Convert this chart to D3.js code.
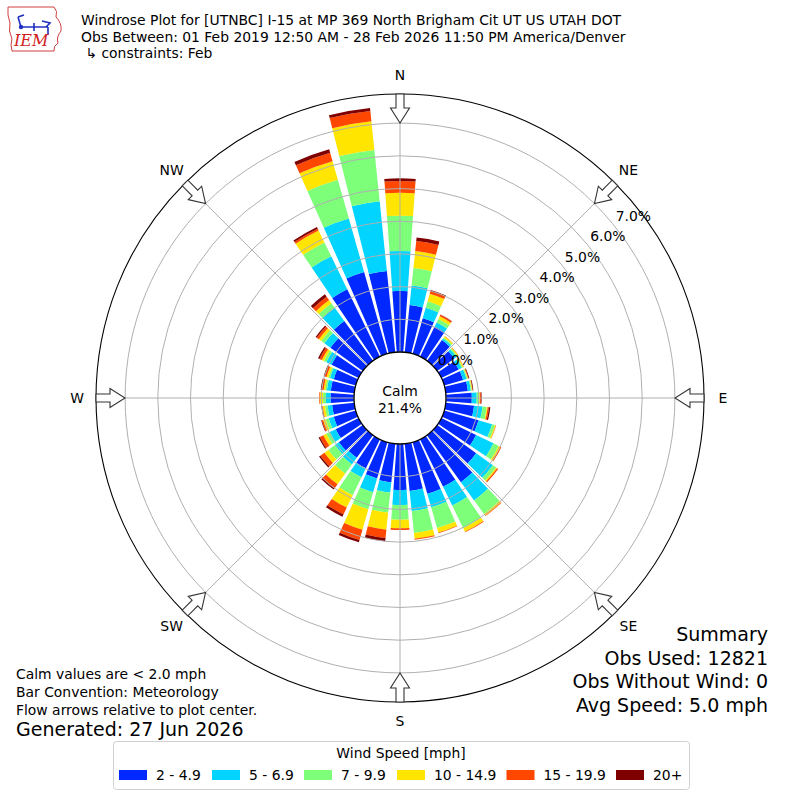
<!DOCTYPE html>
<html lang="en">
<head>
    <meta charset="UTF-8">
    <title>Windrose UTNBC</title>
    <style>
        body { margin: 0; background: #fff; }
        text { font-family: "DejaVu Sans", sans-serif; fill: #000; }
    </style>
    <script src="https://cdn.jsdelivr.net/npm/d3@7"></script>
</head>
<body>
<svg class="chart" width="800" height="800"></svg>
<script>
    // wind direction bins (deg, meteorological) and percent of obs per speed bin
    const directions = [0, 10, 20, 30, 40, 50, 60, 70, 80, 90, 100, 110, 120, 130, 140, 150, 160, 170,
        180, 190, 200, 210, 220, 230, 240, 250, 260, 270, 280, 290, 300, 310, 320, 330, 340, 350];
    const speed2to5 = [1.87, 1.45, 1.13, 1.02, 0.78, 0.65, 0.59, 0.60, 0.68, 0.79, 0.87, 1.09, 1.18, 1.47, 1.77, 1.61, 1.64, 1.45,
        1.41, 1.19, 1.15, 0.98, 0.85, 0.90, 0.78, 0.70, 0.68, 0.72, 0.72, 0.70, 0.92, 1.22, 1.50, 2.29, 2.60, 2.50];
    const speed5to7 = [1.22, 0.60, 0.33, 0.14, 0.06, 0.08, 0.10, 0.11, 0.09, 0.15, 0.26, 0.43, 0.59, 0.63, 0.69, 0.64, 0.43, 0.62,
        0.46, 0.31, 0.44, 0.31, 0.25, 0.15, 0.20, 0.16, 0.14, 0.14, 0.12, 0.12, 0.18, 0.23, 0.50, 1.12, 1.70, 2.14];
    const speed7to10 = [1.08, 0.54, 0.21, 0.12, 0.04, 0.04, 0.04, 0.03, 0.03, 0.08, 0.13, 0.09, 0.18, 0.12, 0.51, 0.77, 0.66, 0.67,
        0.45, 0.62, 0.54, 0.61, 0.35, 0.25, 0.12, 0.10, 0.08, 0.09, 0.05, 0.05, 0.08, 0.12, 0.17, 0.47, 1.23, 1.58];
    const speed10to15 = [0.70, 0.52, 0.24, 0.09, 0.04, 0.03, 0.03, 0.02, 0.02, 0.02, 0.03, 0.03, 0.06, 0.04, 0.06, 0.12, 0.14, 0.18,
        0.26, 0.52, 0.65, 0.42, 0.40, 0.15, 0.10, 0.08, 0.07, 0.10, 0.05, 0.06, 0.07, 0.09, 0.12, 0.41, 0.59, 0.88];
    const speed15to20 = [0.36, 0.31, 0.09, 0.05, 0.01, 0.01, 0.01, 0.02, 0.01, 0.03, 0.04, 0.01, 0.03, 0.04, 0.02, 0.02, 0.02, 0.03,
        0.05, 0.26, 0.33, 0.23, 0.15, 0.15, 0.12, 0.04, 0.03, 0.02, 0.06, 0.06, 0.08, 0.08, 0.13, 0.06, 0.27, 0.32];
    const speed20up = [0.08, 0.11, 0.03, 0.01, 0, 0, 0, 0.02, 0.02, 0.02, 0.04, 0, 0, 0, 0, 0, 0, 0,
        0, 0.10, 0.07, 0.08, 0.05, 0.05, 0.04, 0.02, 0.01, 0, 0.03, 0.03, 0.05, 0.04, 0.09, 0.06, 0.11, 0.09];

    const speedLabels = ['2 - 4.9', '5 - 6.9', '7 - 9.9', '10 - 14.9', '15 - 19.9', '20+'];
    const speedColors = ['#0028ff', '#00d4ff', '#7dff7a', '#ffe500', '#ff4700', '#7f0000'];
    const radialTicks = [0, 1, 2, 3, 4, 5, 6, 7];
    const compass = ['N', 'NE', 'E', 'SE', 'S', 'SW', 'W', 'NW'];
    const calmPct = 21.4;

    const titleLines = [
        'Windrose Plot for [UTNBC] I-15 at MP 369 North Brigham Cit UT US UTAH DOT',
        'Obs Between: 01 Feb 2019 12:50 AM - 28 Feb 2026 11:50 PM America/Denver',
        ' \u21b3 constraints: Feb'
    ];
    const notes = ['Calm values are < 2.0 mph', 'Bar Convention: Meteorology', 'Flow arrows relative to plot center.'];
    const summary = ['Summary', 'Obs Used: 12821', 'Obs Without Wind: 0', 'Avg Speed: 5.0 mph'];

    const cx = 400, cy = 398,
        rMax = 7.89,
        barWidth = 8.2;

    const svg = d3.select('.chart');
    const rad = d3.scaleLinear().domain([0, rMax]).range([46, 304]);
    const toRad = d => d * Math.PI / 180;

    // table for d3.stack
    const keys = ['s1', 's2', 's3', 's4', 's5', 's6'];
    const series = [speed2to5, speed5to7, speed7to10, speed10to15, speed15to20, speed20up];
    const rows = directions.map((d, i) => {
        const row = {dir: d};
        keys.forEach((k, j) => row[k] = series[j][i]);
        return row;
    });
    const stacked = d3.stack().keys(keys)(rows);

    const g = svg.append('g').attr('transform', 'translate(' + cx + ',' + cy + ')');

    /**
     * bars
     */
    const arc = d3.arc()
        .innerRadius(d => rad(d[0]))
        .outerRadius(d => rad(d[1]))
        .startAngle(d => toRad(d.data.dir - barWidth / 2))
        .endAngle(d => toRad(d.data.dir + barWidth / 2));

    g.selectAll('g.layer')
        .data(stacked).enter().append('g')
        .attr('class', 'layer')
        .attr('fill', (d, i) => speedColors[i])
        .selectAll('path')
        .data(d => d.filter(p => p[1] > p[0]))
        .enter().append('path')
        .attr('d', arc);

    /**
     * grid
     */
    g.selectAll('circle.ring')
        .data(radialTicks).enter().append('circle')
        .attr('class', 'ring')
        .attr('r', d => rad(d))
        .attr('fill', 'none')
        .attr('stroke', '#b0b0b0')
        .attr('stroke-width', 1);

    g.selectAll('line.spoke')
        .data(d3.range(0, 360, 45)).enter().append('line')
        .attr('class', 'spoke')
        .attr('x1', d => rad(0) * Math.sin(toRad(d)))
        .attr('y1', d => -rad(0) * Math.cos(toRad(d)))
        .attr('x2', d => rad(rMax) * Math.sin(toRad(d)))
        .attr('y2', d => -rad(rMax) * Math.cos(toRad(d)))
        .attr('stroke', '#b0b0b0')
        .attr('stroke-width', 1);

    g.append('circle')
        .attr('r', rad(rMax))
        .attr('fill', 'none')
        .attr('stroke', '#000')
        .attr('stroke-width', 1.1);

    // calm hole
    g.append('circle')
        .attr('r', rad(0))
        .attr('fill', '#fff')
        .attr('stroke', '#000')
        .attr('stroke-width', 1.3);

    g.append('text').attr('text-anchor', 'middle').attr('y', -2)
        .style('font-size', '13.9px').text('Calm');
    g.append('text').attr('text-anchor', 'middle').attr('y', 15)
        .style('font-size', '13.9px').text(calmPct.toFixed(1) + '%');

    /**
     * flow arrows
     */
    const rOut = rad(rMax), rHead = rOut - 14, rTip = rOut - 29;
    const arrowPath = 'M-4,' + (-rOut) + 'L4,' + (-rOut) + 'L4,' + (-rHead) + 'L9.5,' + (-rHead) +
        'L0,' + (-rTip) + 'L-9.5,' + (-rHead) + 'L-4,' + (-rHead) + 'Z';
    g.selectAll('path.arrow')
        .data(d3.range(0, 360, 45)).enter().append('path')
        .attr('class', 'arrow')
        .attr('d', arrowPath)
        .attr('transform', d => 'rotate(' + d + ')')
        .attr('fill', '#fff')
        .attr('stroke', '#333')
        .attr('stroke-width', 1.1)
        .attr('stroke-linejoin', 'miter');

    // radial tick labels along the 51 deg ray
    g.selectAll('text.rlabel')
        .data(radialTicks).enter().append('text')
        .attr('class', 'rlabel')
        .attr('x', d => rad(d) * Math.sin(toRad(51)) + 2)
        .attr('y', d => -rad(d) * Math.cos(toRad(51)) - 4.5)
        .style('font-size', '13.9px')
        .text(d => d.toFixed(1) + '%');

    // compass labels
    g.selectAll('text.compass')
        .data(compass).enter().append('text')
        .attr('class', 'compass')
        .attr('x', (d, i) => 323 * Math.sin(toRad(i * 45)))
        .attr('y', (d, i) => -323 * Math.cos(toRad(i * 45)))
        .attr('text-anchor', 'middle')
        .attr('dominant-baseline', 'central')
        .style('font-size', '13.9px')
        .text(d => d);

    /**
     * titles and notes
     */
    svg.selectAll('text.title')
        .data(titleLines).enter().append('text')
        .attr('class', 'title')
        .attr('x', 81)
        .attr('y', (d, i) => 25 + i * 16.5)
        .style('font-size', '13.9px')
        .style('white-space', 'pre')
        .text(d => d);

    svg.selectAll('text.note')
        .data(notes).enter().append('text')
        .attr('class', 'note')
        .attr('x', 16)
        .attr('y', (d, i) => 679 + i * 18)
        .style('font-size', '13.9px')
        .text(d => d);
    svg.append('text').attr('x', 16).attr('y', 736)
        .style('font-size', '19px').text('Generated: 27 Jun 2026');

    svg.selectAll('text.summary')
        .data(summary).enter().append('text')
        .attr('class', 'summary')
        .attr('x', 768)
        .attr('y', (d, i) => 641 + i * 23.7)
        .attr('text-anchor', 'end')
        .style('font-size', '19px')
        .text(d => d);

    /**
     * legend
     */
    const legend = svg.append('g');
    legend.append('rect')
        .attr('x', 113.5).attr('y', 741.5)
        .attr('width', 576).attr('height', 48)
        .attr('rx', 3)
        .attr('fill', '#fff')
        .attr('stroke', '#d0d0d0');
    legend.append('text')
        .attr('x', 401).attr('y', 757.5)
        .attr('text-anchor', 'middle')
        .style('font-size', '13.9px')
        .text('Wind Speed [mph]');
    const legendX = [119, 212, 304, 397, 506.5, 616];
    const item = legend.selectAll('g.item')
        .data(speedLabels).enter().append('g')
        .attr('class', 'item')
        .attr('transform', (d, i) => 'translate(' + legendX[i] + ',770)');
    item.append('rect')
        .attr('width', 28).attr('height', 10)
        .attr('fill', (d, i) => speedColors[i]);
    item.append('text')
        .attr('x', 37).attr('y', 10)
        .style('font-size', '13.9px')
        .text(d => d);

    /**
     * IEM logo
     */
    const logo = svg.append('g').attr('transform', 'translate(6,5)');
    logo.append('path')
        .attr('d', 'M2,2 L48,2 Q52,6 50,12 Q56,18 55,26 Q50,32 52,38 Q47,41 48,46 L6,46 Q4,40 6,34 Q2,26 4,18 Q1,10 2,2 Z')
        .attr('fill', 'none')
        .attr('stroke', '#d04040')
        .attr('stroke-width', 1);
    logo.append('path')
        .attr('d', 'M15,22 L42,22 M28,18 L28,26 M36,16 L44,18 L40,22 M42,22 L42,30 M15,22 L12,12 M12,12 L18,10')
        .attr('fill', 'none')
        .attr('stroke', '#2030c0')
        .attr('stroke-width', 1.6);
    logo.append('circle').attr('cx', 15).attr('cy', 22).attr('r', 2.2).attr('fill', '#2030c0');
    logo.append('text')
        .attr('x', 8).attr('y', 41)
        .style('font-family', '"DejaVu Serif", serif')
        .style('font-style', 'italic')
        .style('font-size', '16px')
        .style('fill', '#d02020')
        .text('IEM');
</script>
</body>
</html>
